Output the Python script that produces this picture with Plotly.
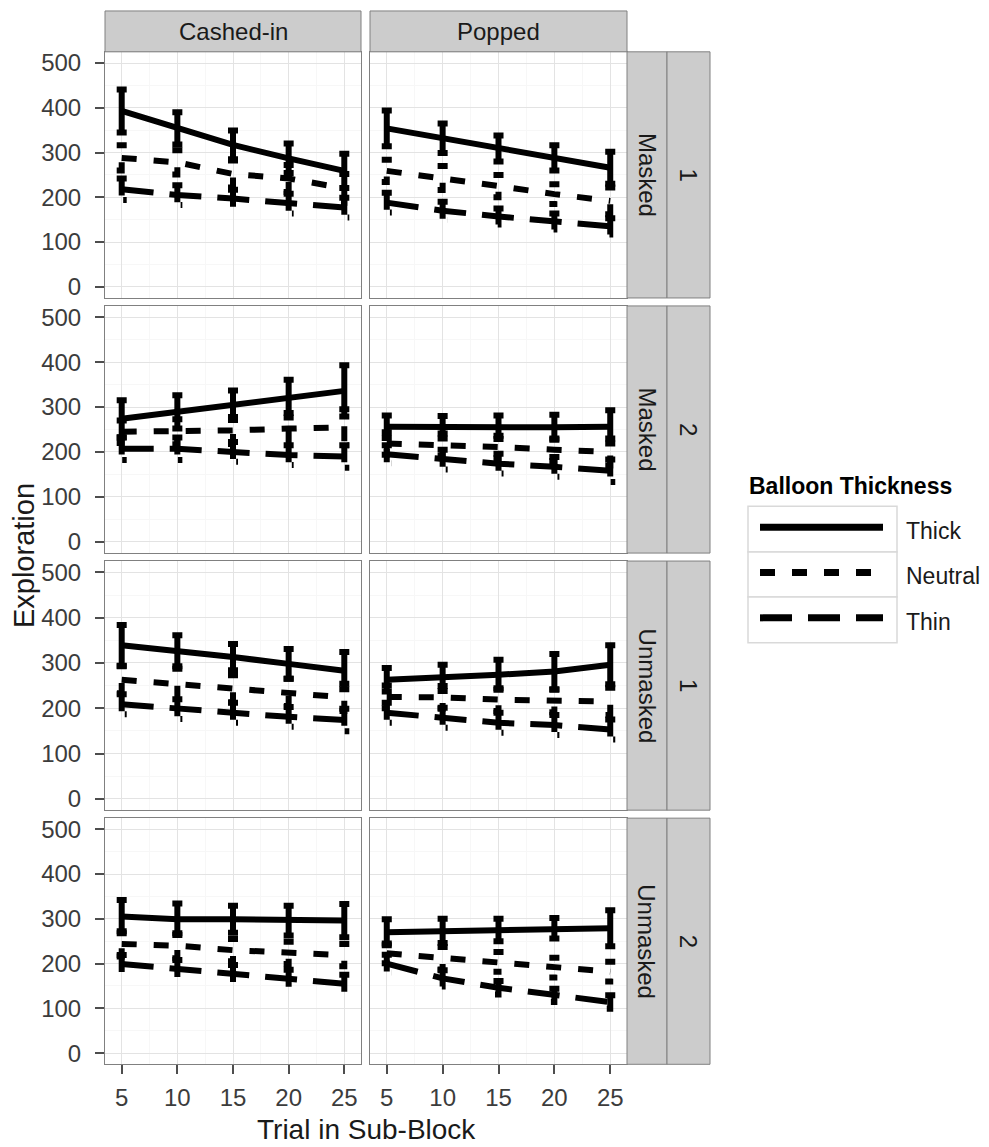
import plotly.graph_objects as go

W, H = 989, 1147

trials = [5, 10, 15, 20, 25]
outcomes = ["Cashed-in", "Popped"]
rows = [("Masked", "1"), ("Masked", "2"), ("Unmasked", "1"), ("Unmasked", "2")]
series = ["Thick", "Neutral", "Thin"]

# panel order: (row0,col0),(row0,col1),(row1,col0),...
thick_mean = [
    [393, 354, 317, 287, 259], [354, 332, 309, 288, 266],
    [274, 289, 304, 319, 336], [256, 255, 255, 255, 256],
    [339, 327, 313, 298, 283], [263, 267, 274, 281, 296],
    [305, 299, 299, 296, 296], [270, 273, 275, 279, 279],
]
thick_se = [
    [48, 36, 32, 33, 38], [40, 33, 29, 28, 36],
    [41, 37, 33, 42, 57], [25, 25, 26, 28, 37],
    [45, 34, 29, 33, 41], [26, 29, 33, 39, 43],
    [37, 35, 30, 33, 37], [29, 27, 25, 23, 40],
]
neutral_mean = [
    [288, 278, 252, 242, 220], [259, 243, 225, 207, 192],
    [245, 245, 248, 252, 255], [219, 216, 211, 205, 200],
    [263, 254, 243, 235, 224], [225, 224, 219, 216, 215],
    [244, 240, 230, 224, 219], [223, 212, 204, 191, 182],
]
neutral_se = [
    [28, 27, 30, 30, 32], [25, 27, 25, 22, 30],
    [25, 28, 30, 35, 40], [25, 25, 25, 25, 30],
    [30, 33, 30, 30, 30], [25, 25, 25, 25, 30],
    [28, 28, 25, 25, 25], [22, 25, 22, 22, 22],
]
thin_mean = [
    [218, 205, 197, 186, 177], [188, 170, 157, 146, 135],
    [207, 207, 200, 193, 190], [195, 183, 174, 167, 158],
    [209, 198, 190, 181, 174], [190, 179, 168, 163, 153],
    [199, 188, 177, 166, 155], [200, 167, 146, 129, 114],
]
thin_se = [
    [24, 22, 20, 22, 22], [22, 20, 18, 18, 18],
    [25, 25, 22, 22, 25], [20, 22, 22, 22, 25],
    [22, 22, 22, 22, 25], [22, 22, 22, 22, 22],
    [20, 20, 20, 20, 20], [20, 18, 15, 15, 15],
]
y_ticks = [0, 100, 200, 300, 400, 500]

means = {"Thick": thick_mean, "Neutral": neutral_mean, "Thin": thin_mean}
ses = {"Thick": thick_se, "Neutral": neutral_se, "Thin": thin_se}
dashes = {"Thick": "solid", "Neutral": "15px,17px", "Thin": "32px,16px"}
LW = 6
CAP = 0.45

# pixel layout
col_px = [(105, 361), (370, 627)]
row_px = [(50, 297), (305, 553), (561, 811), (819, 1066)]

def px_x(p):
    return p / W

def px_y(p):
    return 1 - p / H

fig = go.Figure()
layout = dict(
    width=W, height=H, margin=dict(l=0, r=0, t=0, b=0),
    paper_bgcolor="white", plot_bgcolor="white", showlegend=False,
    font=dict(family="Liberation Sans, Arial, sans-serif", color="#3c3c3c"),
)
shapes = []
annotations = []

for r in range(4):
    for c in range(2):
        i = r * 2 + c
        n = i + 1
        xa = "xaxis" if n == 1 else f"xaxis{n}"
        ya = "yaxis" if n == 1 else f"yaxis{n}"
        xref = "x" if n == 1 else f"x{n}"
        yref = "y" if n == 1 else f"y{n}"
        layout[xa] = dict(
            domain=[px_x(col_px[c][0]), px_x(col_px[c][1])],
            range=[3.5, 26.5], anchor=yref,
            tickmode="array", tickvals=trials, ticktext=[str(t) for t in trials],
            showticklabels=(r == 3), ticks="outside" if r == 3 else "",
            ticklen=9, tickwidth=1.5, tickcolor="#4d4d4d",
            ticklabelstandoff=3,
            tickfont=dict(size=24, color="#3c3c3c"),
            showgrid=True, gridcolor="#e3e3e3", gridwidth=1,
            minor=dict(showgrid=True, gridcolor="#f7f7f7", gridwidth=1, dtick=2.5, tick0=2.5),
            showline=True, mirror=True, linecolor="#808080", linewidth=1,
            zeroline=False, fixedrange=True,
        )
        layout[ya] = dict(
            domain=[px_y(row_px[r][1]), px_y(row_px[r][0])],
            range=[-25, 525], anchor=xref,
            tickmode="array", tickvals=y_ticks, ticktext=[str(t) for t in y_ticks],
            showticklabels=(c == 0), ticks="outside" if c == 0 else "",
            ticklen=9, tickwidth=1.5, tickcolor="#4d4d4d",
            ticklabelstandoff=9,
            tickfont=dict(size=24, color="#3c3c3c"),
            showgrid=True, gridcolor="#e3e3e3", gridwidth=1,
            minor=dict(showgrid=True, gridcolor="#f7f7f7", gridwidth=1, dtick=50, tick0=50),
            showline=True, mirror=True, linecolor="#808080", linewidth=1,
            zeroline=False, fixedrange=True,
        )
        for s in series:
            m = means[s][i]
            e = ses[s][i]
            fig.add_trace(go.Scatter(
                x=trials, y=m, mode="lines", xaxis=xref, yaxis=yref,
                line=dict(color="black", width=LW, dash=dashes[s]), name=s,
                hoverinfo="skip",
            ))
            ex, ey = [], []
            for t, mv, sv in zip(trials, m, e):
                hi, lo = mv + sv, mv - sv
                ex += [t - CAP, t + CAP, t, t, t - CAP, t + CAP, None]
                ey += [hi, hi, hi, lo, lo, lo, None]
            fig.add_trace(go.Scatter(
                x=ex, y=ey, mode="lines", xaxis=xref, yaxis=yref,
                line=dict(color="black", width=LW, dash=dashes[s]),
                hoverinfo="skip", connectgaps=False,
            ))

STRIP_FILL = "#cccccc"
STRIP_LINE = "#808080"
# top strips
for c in range(2):
    x0, x1 = col_px[c]
    shapes.append(dict(type="rect", xref="paper", yref="paper",
                       x0=px_x(x0), x1=px_x(x1), y0=px_y(50), y1=px_y(9),
                       fillcolor=STRIP_FILL, line=dict(color=STRIP_LINE, width=1)))
    annotations.append(dict(xref="paper", yref="paper", x=px_x((x0 + x1) / 2), y=px_y(29.5),
                            text=outcomes[c], showarrow=False,
                            font=dict(size=24, color="#1a1a1a"),
                            xanchor="center", yanchor="middle"))
# right strips
for r in range(4):
    y0, y1 = row_px[r]
    for (sx0, sx1), label in zip([(627, 667), (667, 710)], rows[r]):
        shapes.append(dict(type="rect", xref="paper", yref="paper",
                           x0=px_x(sx0), x1=px_x(sx1), y0=px_y(y1), y1=px_y(y0),
                           fillcolor=STRIP_FILL, line=dict(color=STRIP_LINE, width=1)))
        annotations.append(dict(xref="paper", yref="paper", x=px_x((sx0 + sx1) / 2),
                                y=px_y((y0 + y1) / 2), text=label, showarrow=False,
                                textangle=90, font=dict(size=24, color="#1a1a1a"),
                                xanchor="center", yanchor="middle"))

# axis titles
annotations.append(dict(xref="paper", yref="paper", x=px_x(366), y=px_y(1131),
                        text="Trial in Sub-Block", showarrow=False,
                        font=dict(size=28, color="#1a1a1a"),
                        xanchor="center", yanchor="middle"))
annotations.append(dict(xref="paper", yref="paper", x=px_x(24), y=px_y(556),
                        text="Exploration", showarrow=False, textangle=-90,
                        font=dict(size=29, color="#1a1a1a"),
                        xanchor="center", yanchor="middle"))

# legend (drawn manually)
annotations.append(dict(xref="paper", yref="paper", x=px_x(747), y=px_y(486),
                        text="<b>Balloon Thickness</b>", showarrow=False,
                        font=dict(size=23, color="black"),
                        xanchor="left", yanchor="middle"))
key_tops = [506, 552, 597]
key_bot = 643
for k, s in enumerate(series):
    top = key_tops[k]
    bot = key_tops[k + 1] if k < 2 else key_bot
    shapes.append(dict(type="rect", xref="paper", yref="paper",
                       x0=px_x(748), x1=px_x(897), y0=px_y(bot), y1=px_y(top),
                       fillcolor="white", line=dict(color="#d9d9d9", width=1.5)))
    yc = (top + bot) / 2 - 2
    shapes.append(dict(type="line", xref="paper", yref="paper",
                       x0=px_x(760), x1=px_x(883), y0=px_y(yc), y1=px_y(yc),
                       line=dict(color="black", width=LW + 1, dash=dashes[s])))
    annotations.append(dict(xref="paper", yref="paper", x=px_x(904), y=px_y(yc + 4),
                            text=s, showarrow=False,
                            font=dict(size=23, color="#1a1a1a"),
                            xanchor="left", yanchor="middle"))

layout["shapes"] = shapes
layout["annotations"] = annotations
fig.update_layout(**layout)
fig.write_html("out.html")
